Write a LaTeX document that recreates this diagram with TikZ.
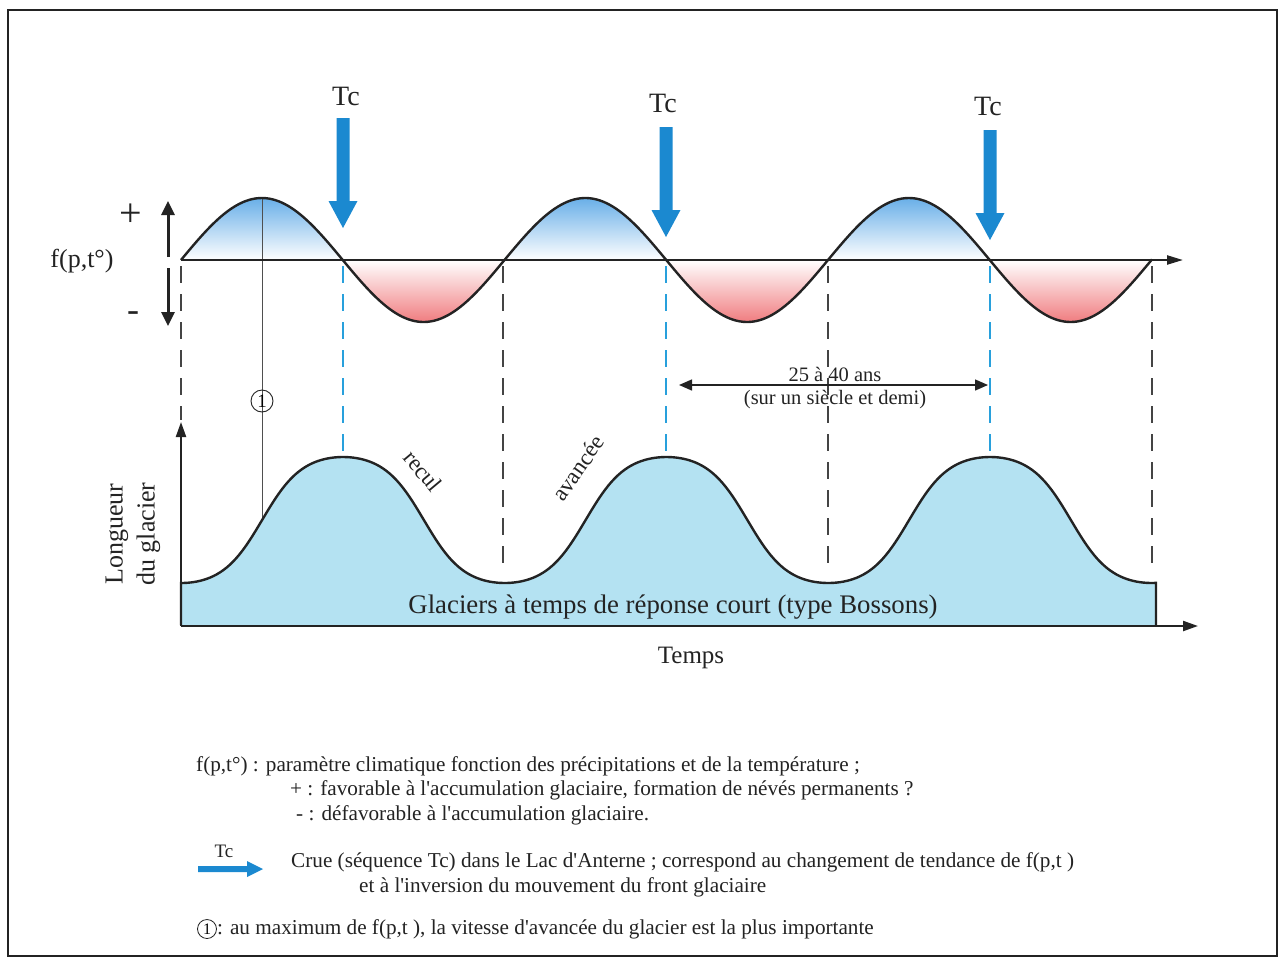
\documentclass[tikz,border=0pt]{standalone}
\usepackage{fontspec}
\setmainfont{Liberation Serif}
\usetikzlibrary{arrows.meta,shapes.geometric}
\definecolor{tcblue}{RGB}{27,137,208}
\definecolor{dashblue}{RGB}{40,160,220}
\definecolor{glacier}{RGB}{180,226,242}
\definecolor{posblue}{RGB}{105,175,232}
\definecolor{negred}{RGB}{240,125,128}
\definecolor{dark}{RGB}{35,35,35}
\newcommand\apo{\textquotesingle}
\begin{document}
\begin{tikzpicture}[x=1pt,y=-1pt,
  txt/.style={inner sep=0pt,text=dark},
  leg/.style={txt,anchor=west,font=\fontsize{21.2}{23}\selectfont},
  curve/.style={line width=2.4pt,draw=dark},
  axis/.style={line width=2.2pt,draw=dark,-{Triangle[length=15pt,width=10pt]}},
  bdash/.style={line width=1.6pt,draw=dark!85,dash pattern=on 17pt off 11pt},
  cdash/.style={line width=1.8pt,draw=dashblue,dash pattern=on 17pt off 11pt},
  tcarr/.pic={\fill[tcblue] (-6.5,0) -- (6.5,0) -- (6.5,83) -- (14.5,83) -- (0,110) -- (-14.5,83) -- (-6.5,83) -- cycle;}
]
\useasboundingbox (0,0) rectangle (1285,959);
\fill[white] (0,0) rectangle (1285,959);
\draw[line width=2.5pt,dark] (8,10) rectangle (1277,956);

% ---- top: f(p,t) lobes
\foreach \k in {0,1,2}{
  \pgfmathsetmacro\a{181+323.5*\k}
  \pgfmathsetmacro\b{\a+161.75}
  \pgfmathsetmacro\c{\b+161.75}
  \fill[top color=posblue,bottom color=white] plot[domain=\a:\b,samples=40] (\x,{260-62*sin((\x-181)/323.5*360)}) -- cycle;
  \fill[top color=white,bottom color=negred] plot[domain=\b:\c,samples=40] (\x,{260-62*sin((\x-181)/323.5*360)}) -- cycle;
}
% dashed verticals
\foreach \xx/\yy in {181/420,503/563,828/563,1152/572}{
  \draw[bdash] (\xx,266) -- (\xx,\yy);
}
\foreach \xx in {343,666,990}{
  \draw[cdash] (\xx,266) -- (\xx,456);
}
% thin line for (1)
\coordinate (pk) at (262,198);
\coordinate (gl) at (262,520);
\draw[line width=0.8pt,dark!80] (pk) -- (gl);
\node[circle,draw=dark,line width=0.9pt,minimum size=22pt,inner sep=0pt,font=\fontsize{19}{20}\selectfont] (c1) at (262,401) {1};

% axis top
\coordinate (o1) at (181,260);
\coordinate (e1) at (1183,260);
\draw[axis,-{Triangle[length=16pt,width=9pt]}] (o1) -- (e1);
\draw[curve] plot[domain=181:1152,samples=300] (\x,{260-62*sin((\x-181)/323.5*360)});

% +/- arrows
\coordinate (ua) at (168,257); \coordinate (ub) at (168,201);
\coordinate (da) at (168,268); \coordinate (db) at (168,326);
\draw[line width=3pt,dark,-{Triangle[length=14pt,width=13pt]}] (ua) -- (ub);
\draw[line width=3pt,dark,-{Triangle[length=14pt,width=13pt]}] (da) -- (db);
\node[txt,font=\fontsize{40}{40}\selectfont] (plus) at (131,215) {+};
\node[txt,font=\fontsize{36}{36}\selectfont] (minus) at (133,317) {-};
\node[txt,font=\fontsize{26}{28}\selectfont] (fpt) at (82,261) {f(p,t°)};

% Tc arrows
\pic at (343,118) {tcarr};
\pic at (666,127) {tcarr};
\pic at (990,130) {tcarr};
\node[txt,font=\fontsize{28}{30}\selectfont] (tc1) at (346,96) {Tc};
\node[txt,font=\fontsize{28}{30}\selectfont] (tc2) at (663,103) {Tc};
\node[txt,font=\fontsize{28}{30}\selectfont] (tc3) at (988,106) {Tc};

% ---- glacier
\fill[glacier] (181,625) -- plot[domain=181:1156,samples=300] (\x,{520-63*tanh(1.1*cos((\x-343)/323.5*360))/0.8005}) -- (1156,625) -- cycle;
\draw[curve] (181,625) -- plot[domain=181:1156,samples=300] (\x,{520-63*tanh(1.1*cos((\x-343)/323.5*360))/0.8005}) -- (1156,625);
\coordinate (o2) at (181,626);
\coordinate (e2) at (1198,626);
\coordinate (t2) at (181,422);
\draw[axis] (o2) -- (e2);
\draw[axis,-{Triangle[length=15pt,width=10pt]}] (o2) -- (t2);

\node[txt,rotate=90,align=center,font=\fontsize{26}{32}\selectfont] (lg) at (133,534) {Longueur\\du glacier};
\node[txt,rotate=-50,font=\fontsize{23}{24}\selectfont] (recul) at (423,471) {recul};
\node[txt,rotate=55,font=\fontsize{23}{24}\selectfont] (av) at (578,468) {avancée};
\node[txt,font=\fontsize{26.8}{28}\selectfont] (gtxt) at (673,607) {Glaciers à temps de réponse court (type Bossons)};
\node[txt,font=\fontsize{25}{28}\selectfont] (temps) at (691,658) {Temps};

% 25 a 40 ans
\coordinate (dl) at (679,385);
\coordinate (dr) at (988,385);
\draw[line width=1.4pt,dark,{Triangle[length=13pt,width=11pt]}-{Triangle[length=13pt,width=11pt]}] (dl) -- (dr);
\node[txt,font=\fontsize{20.5}{22}\selectfont] (ans) at (835,374) {25 à 40 ans};
\node[txt,font=\fontsize{20.5}{22}\selectfont] (sie) at (835,400) {(sur un siècle et demi)};

% ---- legend
\node[leg] (l1) at (196,766) {f(p,t°) : paramètre climatique fonction des précipitations et de la température ;};
\node[leg] (l2) at (290,790) {+ : favorable à l\apo accumulation glaciaire, formation de névés permanents ?};
\node[leg] (l3) at (296,815) {- : défavorable à l\apo accumulation glaciaire.};
\fill[tcblue] (198,866) -- (247,866) -- (247,861) -- (263,869) -- (247,877) -- (247,872) -- (198,872) -- cycle;
\node[txt,font=\fontsize{19}{20}\selectfont] (ltc) at (224,851) {Tc};
\node[leg] (l4) at (291,862) {Crue (séquence Tc) dans le Lac d\apo Anterne ; correspond au changement de tendance de f(p,t )};
\node[leg] (l5) at (359,887) {et à l\apo inversion du mouvement du front glaciaire};
\node[circle,draw=dark,line width=0.8pt,minimum size=19pt,inner sep=0pt,font=\fontsize{16}{17}\selectfont] (lc1) at (207,929) {1};
\node[leg,anchor=west] (l6) at (lc1.east) {: au maximum de f(p,t ), la vitesse d\apo avancée du glacier est la plus importante};
\end{tikzpicture}
\end{document}
